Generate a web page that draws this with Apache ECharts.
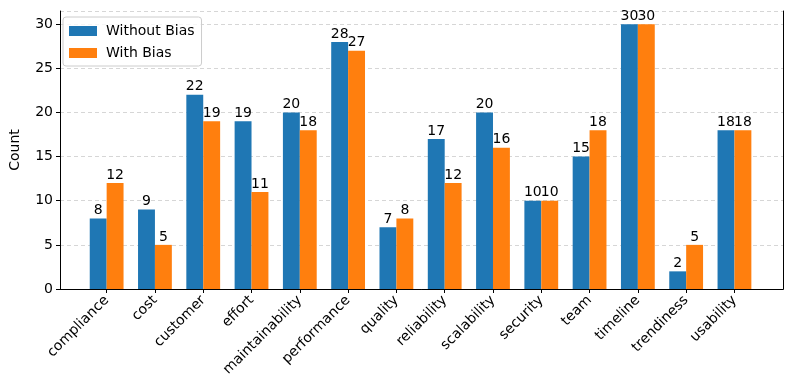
<!DOCTYPE html>
<html>
<head>
<meta charset="utf-8">
<script src="https://cdn.jsdelivr.net/npm/echarts@6/dist/echarts.min.js"></script>
<style>
  html, body { margin: 0; padding: 0; background: #fff; }
  #chart { width: 793px; height: 392px; }
</style>
</head>
<body>
<div id="chart"></div>
<script>
const categories = ['compliance', 'cost', 'customer', 'effort', 'maintainability', 'performance',
  'quality', 'reliability', 'scalability', 'security', 'team', 'timeline', 'trendiness', 'usability'];
const withoutBias = [8, 9, 22, 19, 20, 28, 7, 17, 20, 10, 15, 30, 2, 18];
const withBias = [12, 5, 19, 11, 18, 27, 8, 12, 16, 10, 18, 30, 5, 18];
const yTicks = [0, 5, 10, 15, 20, 25, 30];

const FONT = 'DejaVu Sans';
const FS = 14;
const chart = echarts.init(document.getElementById('chart'), null, {renderer: 'canvas'});

const labelStyle = {
    show: true,
    position: 'top',
    distance: 1,
    color: '#000',
    fontFamily: FONT,
    fontSize: FS
};
const blackLine = {show: true, lineStyle: {color: '#000', width: 1}};
const hidden = {axisTick: {show: false}, axisLabel: {show: false}, splitLine: {show: false}};

chart.setOption({
    animation: false,
    textStyle: {fontFamily: FONT},
    legend: {
        orient: 'vertical',
        left: 63,
        top: 17,
        itemWidth: 28,
        itemHeight: 10,
        itemGap: 8,
        padding: [7, 7, 6, 6],
        borderColor: '#cccccc',
        borderWidth: 1,
        borderRadius: 3,
        backgroundColor: 'rgba(255,255,255,0.8)',
        textStyle: {fontFamily: FONT, fontSize: FS, color: '#000', padding: [0, 0, 0, 4]},
        data: [
            {name: 'Without Bias', icon: 'rect'},
            {name: 'With Bias', icon: 'rect'}
        ]
    },
    grid: [
        // frame + y axis
        {left: 57, right: 10, top: 11, bottom: 103},
        // bars: bands sized so the matplotlib margins line up
        {left: 82.5, right: 34.4, top: 11, bottom: 103}
    ],
    xAxis: [
        {gridIndex: 0, type: 'value', min: 0, max: 1, position: 'bottom', z: 5, axisLine: blackLine, ...hidden},
        {
            gridIndex: 1, type: 'category', data: categories,
            axisLine: {show: false},
            axisTick: {show: true, alignWithLabel: true, length: 4, lineStyle: {color: '#000'}},
            axisLabel: {rotate: 45, margin: 9, color: '#000', fontFamily: FONT, fontSize: FS, interval: 0}
        },
        {gridIndex: 0, type: 'value', min: 0, max: 1, position: 'top', z: 5, axisLine: blackLine, ...hidden}
    ],
    yAxis: [
        {
            gridIndex: 0, type: 'value', min: 0, max: 31.5, interval: 5, position: 'left', z: 5,
            name: 'Count', nameLocation: 'middle', nameGap: 38,
            nameTextStyle: {color: '#000', fontFamily: FONT, fontSize: FS},
            axisLine: blackLine,
            axisTick: {show: true, length: 4, lineStyle: {color: '#000'}},
            axisLabel: {color: '#000', fontFamily: FONT, fontSize: FS, margin: 7, showMaxLabel: false,
                formatter: v => (yTicks.includes(v) ? String(v) : '')},
            splitLine: {show: false}
        },
        {
            gridIndex: 1, type: 'value', min: 0, max: 31.5,
            axisLine: {show: false}, ...hidden
        },
        {
            gridIndex: 0, type: 'value', min: 0, max: 31.5, interval: 5, position: 'right', z: 0,
            axisLine: {show: false}, axisTick: {show: false}, axisLabel: {show: false},
            splitLine: {show: true, lineStyle: {color: '#cccccc', type: [4, 3], width: 0.8}}
        },
        {gridIndex: 0, type: 'value', min: 0, max: 31.5, position: 'right', offset: 0, z: 5, axisLine: blackLine, ...hidden}
    ],
    series: [
        {
            name: 'Without Bias', type: 'bar', xAxisIndex: 1, yAxisIndex: 1,
            data: withoutBias, barWidth: '35%', barGap: '0%',
            itemStyle: {color: '#1f77b4', borderWidth: 0}, label: labelStyle
        },
        {
            name: 'With Bias', type: 'bar', xAxisIndex: 1, yAxisIndex: 1,
            data: withBias, barWidth: '35%', barGap: '0%',
            itemStyle: {color: '#ff7f0e', borderWidth: 0}, label: labelStyle
        }
    ]
});
</script>
</body>
</html>
